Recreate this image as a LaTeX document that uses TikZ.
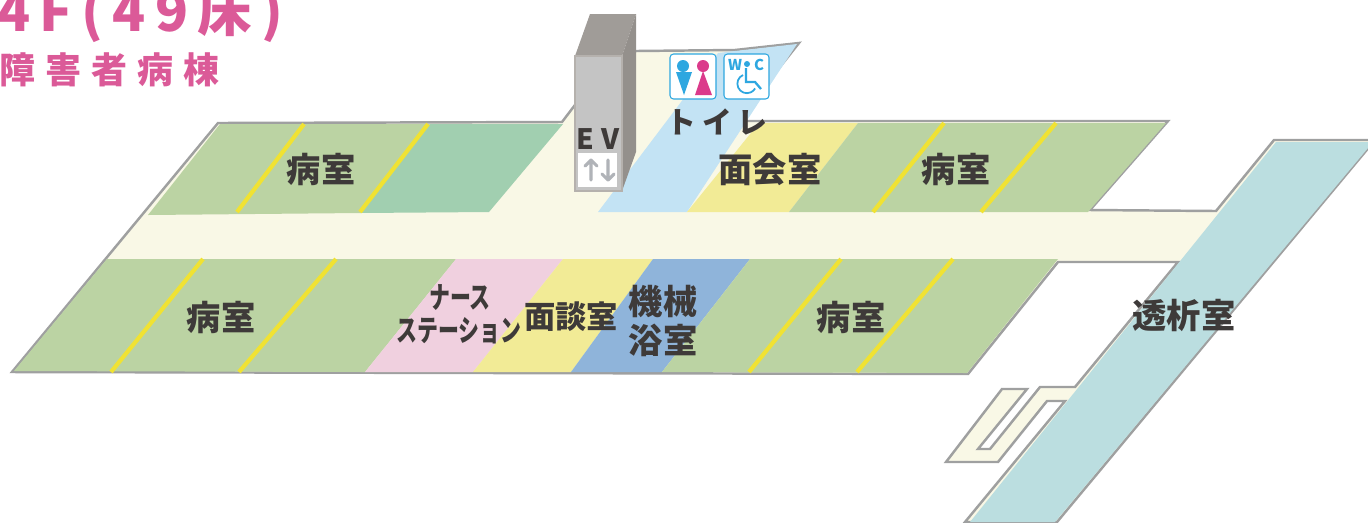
\documentclass[tikz,border=0pt]{standalone}
\usepackage{fontspec}
\setmainfont{Noto Sans CJK JP}
\newfontfamily\titlefont[LetterSpace=17]{Noto Sans CJK JP}
\newfontfamily\spacedfont[LetterSpace=28]{Noto Sans CJK JP}
\newfontfamily\trayfont[LetterSpace=18]{Noto Sans CJK JP}
\definecolor{floorcream}{HTML}{F9F8E6}
\definecolor{roomgreen}{HTML}{BBD3A3}
\definecolor{darkgreen}{HTML}{A1CFB0}
\definecolor{roomyellow}{HTML}{F2EB96}
\definecolor{roompink}{HTML}{F0D0DF}
\definecolor{roomblue}{HTML}{8FB4DA}
\definecolor{wcblue}{HTML}{C3E3F4}
\definecolor{dialteal}{HTML}{BBDEE0}
\definecolor{wallgray}{HTML}{9FA0A0}
\definecolor{linkyellow}{HTML}{F0E233}
\definecolor{labeldark}{HTML}{3E3A39}
\definecolor{titlepink}{HTML}{DB5A98}
\definecolor{iconblue}{HTML}{2EA7E0}
\definecolor{iconpink}{HTML}{DB3A8B}
\definecolor{shafttop}{HTML}{A09C98}
\definecolor{shaftside}{HTML}{94908C}
\definecolor{shaftfront}{HTML}{C4C4C4}
\definecolor{shaftedge}{HTML}{B5B1AD}
\definecolor{liftarrow}{HTML}{B0B3B8}
\tikzstyle{wall}=[draw=wallgray,line width=1.4pt,line join=miter,fill=floorcream]
\tikzstyle{link}=[linkyellow,line width=2.4pt]
\tikzstyle{roomlabel}=[labeldark,font=\bfseries\fontsize{19.5}{22}\selectfont,inner sep=0]
\tikzstyle{iconbox}=[draw=iconblue,line width=.6pt,fill=white,rounded corners=2pt]
\tikzstyle{liftline}=[liftarrow,line width=1.8pt,line cap=round,line join=round]
\begin{document}
\begin{tikzpicture}[x=0.02cm,y=-0.02cm]
\useasboundingbox (0,0) rectangle (1368,522);
\clip (0,0) rectangle (1368,522);
% floor outline
\draw[wall] (12,372)--(218,123)--(562,122)--(600,72)--(636,51)--(735,50)--(799,43)--(737,121)--(1168,121)--(1090,210)--(1216,211)--(1274,140)--(1375,140)--(1057,522)--(965,522)--(1065,401)--(1047,401)--(998,462)--(946,462)--(1002,389)--(1027,389)--(978,449)--(990,449)--(1040,387)--(1075,387)--(1178,262)--(1058,262)--(968,374)--cycle;
% rooms
\fill[roomgreen] (148,215)--(220,124)--(430,124)--(360,213)--cycle;
\fill[darkgreen] (360,213)--(430,124)--(563,124)--(489,212)--cycle;
\fill[wcblue] (598,212)--(718,53)--(735,51)--(797,44)--(687,212)--cycle;
\fill[roomyellow] (687,212)--(759,123)--(858,123)--(789,212)--cycle;
\fill[roomgreen] (789,212)--(858,123)--(1166,123)--(1088,212)--cycle;
\fill[roomgreen] (14,371)--(107,259)--(456,259)--(365,372)--cycle;
\fill[roompink] (365,372)--(456,259)--(563,259)--(473,372)--cycle;
\fill[roomyellow] (473,372)--(563,259)--(653,259)--(571,372)--cycle;
\fill[roomblue] (571,372)--(653,259)--(750,259)--(662,372)--cycle;
\fill[roomgreen] (662,372)--(750,259)--(1058,259)--(967,373)--cycle;
\fill[dialteal] (1276,142)--(1368,142)--(1368,148)--(1055,522)--(970,522)--cycle;
\foreach \xa/\ya/\xb/\yb in {304/124/237/212,428/124/360/212,944/123/873/212,1056/123/981/212,203/259/111/372,336/259/239/372,841/259/749/372,953/259/857/372}{
	\draw[link] (\xa,\ya)--(\xb,\yb);
}
% EV shaft
\fill[shafttop] (575,56)--(590,14)--(636,14)--(622,56)--cycle;
\fill[shaftside] (622,56)--(636,14)--(636,152)--(622,191)--cycle;
\filldraw[draw=shaftedge,line width=.8pt,fill=shaftfront] (575,56) rectangle (622,191);
\fill[white] (578,153) rectangle (617,187);
\draw[liftline] (591,180)--(591,160) (585,166)--(591,160)--(597,166);
\draw[liftline] (608,160)--(608,180) (602,174)--(608,180)--(614,174);
% toilet icons
\draw[iconbox] (670,54) rectangle (716,99);
\draw[iconbox] (724,54) rectangle (769,99);
\fill[iconblue] (683,66) circle (6);
\fill[iconblue] (676,72)--(692,72)--(684,95)--cycle;
\fill[iconpink] (703,66) circle (6);
\fill[iconpink] (703,71)--(712,95)--(695,95)--cycle;
\fill[iconblue] (747,64) circle (3);
\draw[iconblue,line width=1.3pt] (746,68)--(746,82)--(755,82)--(761,89);
\draw[iconblue,line width=1pt] (743,75) arc (246:30:9.5);
\node[iconblue,font=\bfseries\fontsize{8.5}{9}\selectfont,inner sep=0] (wmark) at (735,65) {W};
\node[iconblue,font=\bfseries\fontsize{8.5}{9}\selectfont,inner sep=0] (cmark) at (759,65) {C};
% labels
\node[titlepink,font=\titlefont\bfseries\fontsize{31}{34}\selectfont,inner sep=0,anchor=west] (title) at (-3,14) {4F(49床)};
\node[titlepink,font=\spacedfont\bfseries\fontsize{20.5}{23}\selectfont,inner sep=0,anchor=west] (ward) at (-1,70) {障害者病棟};
\node[roomlabel,font=\bfseries\fontsize{16}{18}\selectfont] (evname) at (598,139) {E\hspace{4pt}V};
\node[roomlabel,font=\trayfont\bfseries\fontsize{17}{20}\selectfont] (wcname) at (717,122) {トイレ};
\node[roomlabel] (roomA) at (321,169) {病室};
\node[roomlabel] (meeting) at (770,169) {面会室};
\node[roomlabel] (roomB) at (956,169) {病室};
\node[roomlabel] (roomC) at (221,317) {病室};
\node[roomlabel,font=\bfseries\fontsize{17}{20}\selectfont,xscale=.7] (nurseA) at (460,298) {ナース};
\node[roomlabel,font=\bfseries\fontsize{17}{20}\selectfont,xscale=.7] (nurseB) at (459,331) {ステーション};
\node[roomlabel,font=\bfseries\fontsize{17.8}{20}\selectfont] (talk) at (571,317) {面談室};
\node[roomlabel] (bathA) at (663,301) {機械};
\node[roomlabel] (bathB) at (663,340) {浴室};
\node[roomlabel] (roomD) at (851,317) {病室};
\node[roomlabel] (dial) at (1184,315) {透析室};
\end{tikzpicture}
\end{document}
